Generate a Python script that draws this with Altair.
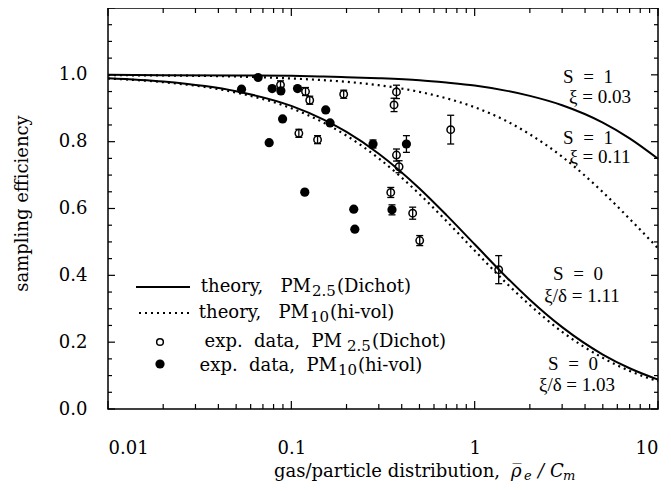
import altair as alt
import pandas as pd

# ---------------- data ----------------
curve_x = [0.01, 0.02, 0.05, 0.1, 0.15, 0.2, 0.3, 0.5, 0.7, 1, 1.5, 2, 3, 5, 7, 10]
# theory, PM2.5 (Dichot), S = 1, xi = 0.03  (solid, upper)
pm25_s1 = [1.000, 0.999, 0.998, 0.997, 0.995, 0.993, 0.990, 0.984, 0.977, 0.968,
           0.952, 0.937, 0.909, 0.857, 0.810, 0.749]
# theory, PM10 (hi-vol), S = 1, xi = 0.11  (dotted, upper)
pm10_s1 = [0.999, 0.998, 0.995, 0.989, 0.984, 0.979, 0.969, 0.949, 0.930, 0.903,
           0.861, 0.822, 0.755, 0.649, 0.569, 0.481]
# theory, PM2.5 (Dichot), S = 0  (solid, lower)
pm25_s0 = [0.990, 0.980, 0.951, 0.907, 0.866, 0.829, 0.764, 0.660, 0.581, 0.493,
           0.393, 0.327, 0.245, 0.163, 0.122, 0.088]
# theory, PM10 (hi-vol), S = 0  (dotted, lower)
pm10_s0 = [0.989, 0.978, 0.947, 0.900, 0.857, 0.818, 0.750, 0.643, 0.563, 0.474,
           0.375, 0.311, 0.231, 0.153, 0.114, 0.083]

# exp. data, PM2.5 (Dichot) - open circles with error bars
open_x = [0.0873, 0.1195, 0.126, 0.193, 0.3745, 0.3633, 0.1099, 0.139, 0.740,
          0.3745, 0.387, 0.3486, 0.459, 0.5015, 1.352]
open_y = [0.970, 0.950, 0.924, 0.942, 0.949, 0.910, 0.825, 0.806, 0.836,
          0.760, 0.725, 0.648, 0.586, 0.504, 0.417]
open_err = [0.012, 0.012, 0.012, 0.012, 0.020, 0.020, 0.012, 0.012, 0.043,
            0.018, 0.018, 0.015, 0.018, 0.015, 0.042]

# exp. data, PM10 (hi-vol) - filled circles
filled_x = [0.0659, 0.0535, 0.0786, 0.0877, 0.1081, 0.154, 0.1627, 0.0896, 0.0757,
            0.279, 0.4244, 0.1184, 0.219, 0.354, 0.222]
filled_y = [0.992, 0.957, 0.959, 0.952, 0.959, 0.895, 0.856, 0.868, 0.797,
            0.793, 0.793, 0.649, 0.598, 0.596, 0.538]
filled_err = [0, 0, 0, 0, 0, 0, 0, 0, 0, 0.012, 0.025, 0, 0, 0.015, 0]

x_major = [0.01, 0.1, 1, 10]
x_minor = [0.02, 0.03, 0.04, 0.05, 0.06, 0.07, 0.08, 0.09,
           0.2, 0.3, 0.4, 0.5, 0.6, 0.7, 0.8, 0.9,
           2, 3, 4, 5, 6, 7, 8, 9]
y_major = [0.0, 0.2, 0.4, 0.6, 0.8, 1.0, 1.2]
y_minor = [0.05, 0.1, 0.15, 0.25, 0.3, 0.35, 0.45, 0.5, 0.55, 0.65, 0.7, 0.75,
           0.85, 0.9, 0.95, 1.05, 1.1, 1.15]
y_labels = [0.0, 0.2, 0.4, 0.6, 0.8, 1.0]

# ---------------- layout / style ----------------
W, H = 550, 401
SERIF = "DejaVu Serif"
TIMES = "Liberation Serif"

xscale = alt.Scale(type="log", domain=[0.01, 10], nice=False)
yscale = alt.Scale(domain=[0, 1.2], nice=False, zero=False)
xaxis = alt.Axis(values=x_major, format="~g", title=None, labelPadding=30,
                 labelFont=SERIF, labelFontSize=18, labelColor="black")
yaxis = alt.Axis(values=y_labels, format=".1f", title="sampling efficiency",
                 labelPadding=21, labelFont=SERIF, labelFontSize=18, labelColor="black",
                 titleFont=SERIF, titleFontSize=18, titleFontWeight="normal",
                 titleColor="black", titleX=-86, titleY=195, titleAngle=270,
                 titleAlign="center", titleBaseline="middle")


def X(f):
    return alt.X(f, type="quantitative", scale=xscale, axis=xaxis)


def Y(f):
    return alt.Y(f, type="quantitative", scale=yscale, axis=yaxis)


curves = pd.DataFrame({
    "x": curve_x * 4,
    "y": pm25_s1 + pm10_s1 + pm25_s0 + pm10_s0,
    "curve": ["pm25_s1"] * 16 + ["pm10_s1"] * 16 + ["pm25_s0"] * 16 + ["pm10_s0"] * 16,
})

solid = alt.Chart(curves).transform_filter(
    alt.FieldOneOfPredicate(field="curve", oneOf=["pm25_s1", "pm25_s0"])
).mark_line(color="black", strokeWidth=2, interpolate="monotone").encode(
    x=X("x"), y=Y("y"), detail="curve:N")

dotted = alt.Chart(curves).transform_filter(
    alt.FieldOneOfPredicate(field="curve", oneOf=["pm10_s1", "pm10_s0"])
).mark_line(color="black", strokeWidth=2.2, strokeDash=[2, 4],
            interpolate="monotone").encode(x=X("x"), y=Y("y"), detail="curve:N")

odf = pd.DataFrame({"x": open_x, "y": open_y, "err": open_err})
fdf = pd.DataFrame({"x": filled_x, "y": filled_y, "err": filled_err})
bars = pd.concat([odf, fdf], ignore_index=True)
bars = bars[bars["err"] > 0].copy()
bars["lo"] = bars["y"] - bars["err"]
bars["hi"] = bars["y"] + bars["err"]
caps = pd.DataFrame({"x": list(bars["x"]) * 2, "yc": list(bars["lo"]) + list(bars["hi"])})

err_rule = alt.Chart(bars).mark_rule(color="black", strokeWidth=1.3).encode(
    x=X("x"), y=Y("lo"), y2="hi")
err_caps = alt.Chart(caps).mark_tick(color="black", orient="horizontal", size=7,
                                     thickness=1.3, opacity=1).encode(x=X("x"), y=Y("yc"))

open_pts = alt.Chart(odf).mark_point(shape="circle", filled=False, color="black",
                                     size=55, strokeWidth=1.5, opacity=1).encode(
    x=X("x"), y=Y("y"))
filled_pts = alt.Chart(fdf).mark_circle(color="black", size=85, opacity=1).encode(
    x=X("x"), y=Y("y"))


def yticks(vals, length, right=False):
    d = pd.DataFrame({"v": vals})
    x0 = W if right else 0
    x1 = W - length if right else length
    return alt.Chart(d).mark_rule(color="black", strokeWidth=1.2).encode(
        y=Y("v"), x=alt.value(x0), x2=alt.value(x1))


def xticks(vals, length, top=False):
    d = pd.DataFrame({"v": vals})
    y0 = 0 if top else H
    y1 = length if top else H - length
    return alt.Chart(d).mark_rule(color="black", strokeWidth=1.2).encode(
        x=X("v"), y=alt.value(y0), y2=alt.value(y1))


tick_layers = [
    yticks(y_major, 7), yticks(y_minor, 4), yticks(y_major, 7, True), yticks(y_minor, 4, True),
    xticks(x_major, 8), xticks(x_minor, 5), xticks(x_major, 8, True), xticks(x_minor, 5, True),
]

dummy = pd.DataFrame({"a": [0]})
OX, OY = 108, 8  # page position of the plot origin


def txt(s, px, py, font=SERIF, size=18, align="left", style="normal"):
    return alt.Chart(dummy).mark_text(text=s, font=font, fontSize=size, align=align,
                                      baseline="alphabetic", color="black",
                                      fontStyle=style).encode(
        x=alt.value(px - OX), y=alt.value(py - OY))


NB = "\u00a0"
legend = [
    alt.Chart(dummy).mark_rule(color="black", strokeWidth=2).encode(
        x=alt.value(136 - OX), x2=alt.value(190 - OX), y=alt.value(287 - OY)),
    alt.Chart(dummy).mark_rule(color="black", strokeWidth=2.2, strokeDash=[2, 4]).encode(
        x=alt.value(139 - OX), x2=alt.value(192 - OX), y=alt.value(313 - OY)),
    alt.Chart(dummy).mark_point(shape="circle", filled=False, color="black", size=45,
                                strokeWidth=1.5, opacity=1).encode(
        x=alt.value(160 - OX), y=alt.value(342 - OY)),
    alt.Chart(dummy).mark_circle(color="black", size=85, opacity=1).encode(
        x=alt.value(160 - OX), y=alt.value(364 - OY)),
    txt("theory," + NB * 3 + "PM", 311, 292, align="right"), txt("2.5", 312, 296, size=15),
    txt("(Dichot)", 337, 292),
    txt("theory," + NB * 3 + "PM", 309, 318, align="right"), txt("10", 310, 322, size=15),
    txt("(hi-vol)", 330, 318),
    txt("exp." + NB + NB + "data," + NB * 2 + "PM", 342, 347, align="right"),
    txt("2.5", 347, 351, size=15), txt("(Dichot)", 372, 347),
    txt("exp." + NB + NB + "data," + NB * 2 + "PM", 337, 371, align="right"),
    txt("10", 338, 375, size=15), txt("(hi-vol)", 358, 371),
]

ann = [
    txt("S\u2002=\u20021", 588, 83, font=TIMES, size=19, align="center"),
    txt("\u03be = 0.03", 600, 103, font=TIMES, size=19, align="center"),
    txt("S\u2002=\u20021", 588, 144, font=TIMES, size=19, align="center"),
    txt("\u03be = 0.11", 600, 163, font=TIMES, size=19, align="center"),
    txt("S\u2002=\u20020", 578, 280, font=TIMES, size=19, align="center"),
    txt("\u03be/\u03b4 = 1.11", 582, 302, font=TIMES, size=19, align="center"),
    txt("S\u2002=\u20020", 573, 370, font=TIMES, size=19, align="center"),
    txt("\u03be/\u03b4 = 1.03", 577, 391, font=TIMES, size=19, align="center"),
]

xtitle = [
    txt("gas/particle distribution,", 500, 477, align="right"),
    txt("\u03c1\u0305", 511, 477, style="italic"),
    txt("e", 524, 480, size=13, style="italic"),
    txt("/", 538, 477, style="italic"),
    txt("C", 550, 477, style="italic"),
    txt("m", 563, 480, size=13, style="italic"),
]

chart = alt.layer(
    solid, dotted, err_rule, err_caps, open_pts, filled_pts,
    *tick_layers, *legend, *ann, *xtitle
).properties(
    width=W, height=H,
    autosize=alt.AutoSizeParams(type="none"),
    padding={"left": 100, "top": 0, "right": 5, "bottom": 74},
).configure_view(stroke="black", strokeWidth=1.5).configure_axis(
    grid=False, domain=False, ticks=False, tickSize=0)

chart.save("out.html", embed_options={"renderer": "svg", "actions": False})
